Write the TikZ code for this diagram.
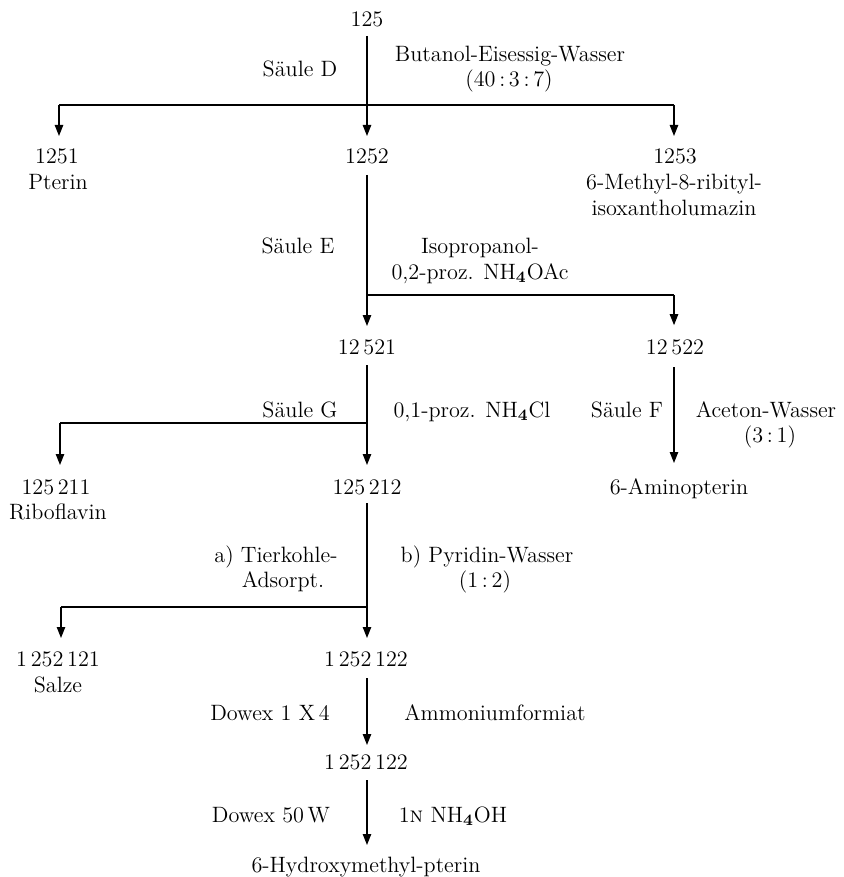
\documentclass[tikz,border=0pt]{standalone}
\usetikzlibrary{arrows.meta}
\begin{document}
\begin{tikzpicture}[x=0.5pt,y=-0.5pt,
  every node/.style={anchor=base,inner sep=0pt,outer sep=0pt,text height=7.1pt,text depth=0pt,
    font=\fontsize{11.1}{13}\selectfont},
  ln/.style={line width=0.65pt},
  arr/.style={ln,-{Triangle[length=5.5pt,width=4.2pt]}}]
\useasboundingbox (0,0) rectangle (844,877);
% ---- compounds
\node (n125) at (367,27) {125};
\node (n1251) at (57,164) {1251};
\node (pterin) at (58,190) {Pterin};
\node (n1252) at (367,164) {1252};
\node (n1253) at (675,164) {1253};
\node (methyl) at (674,190) {6-Methyl-8-ribityl-};
\node (isox) at (674,215) {isoxantholumazin};
\node (n12521) at (367,354) {12\,521};
\node (n12522) at (675,354) {12\,522};
\node (n125211) at (56,494) {125\,211};
\node (ribo) at (58,519) {Riboflavin};
\node (n125212) at (367,494) {125\,212};
\node (amino) at (679,494) {6-Aminopterin};
\node (n1252121) at (58,666) {1\,252\,121};
\node (salze) at (58,692) {Salze};
\node (n1252122) at (366,666) {1\,252\,122};
\node (n1252122b) at (366,769) {1\,252\,122};
\node (hydroxy) at (366,872) {6-Hydroxymethyl-pterin};
% ---- conditions
\node (sD) at (300,77) {Säule D};
\node (butanol) at (510,62) {Butanol-Eisessig-Wasser};
\node (ratioD) at (509,87) {(40\,:\,3\,:\,7)};
\node (sE) at (298,254) {Säule E};
\node (iso) at (480,254) {Isopropanol-};
\node (acE) at (480,279) {0,2-proz. NH$_{\mathbf{4}}$OAc};
\node (sG) at (300,417) {Säule G};
\node (clG) at (472,417) {0,1-proz. NH$_{\mathbf{4}}$Cl};
\node (sF) at (627,417) {Säule F};
\node (aceton) at (766,417) {Aceton-Wasser};
\node (ratioF) at (770,442) {(3\,:\,1)};
\node (tier) at (276,562) {a) Tierkohle-};
\node (ads) at (283,587) {Adsorpt.};
\node (pyr) at (487,562) {b) Pyridin-Wasser};
\node (ratioP) at (485,587) {(1\,:\,2)};
\node (dow1) at (270,720) {Dowex 1 X\,4};
\node (amf) at (495,720) {Ammoniumformiat};
\node (dow50) at (271,822) {Dowex 50\,W};
\node (nh4oh) at (453,822) {1\textsc{n} NH$_{\mathbf{4}}$OH};
% ---- junctions
\coordinate (jD) at (367,105);
\coordinate (jDl) at (59,105);
\coordinate (jDr) at (674,105);
\coordinate (jE) at (367,295);
\coordinate (jEr) at (674,295);
\coordinate (jG) at (367,423);
\coordinate (jGl) at (60,423);
\coordinate (jT) at (367,607);
\coordinate (jTl) at (61,607);
% ---- step D
\draw[ln] (jDl) -- (jDr);
\draw[ln,shorten <=4.5pt] (n125) -- (jD);
\draw[arr,shorten >=6.9pt] (jD) -- (n1252);
\draw[arr,shorten >=6.9pt] (jDl) -- (jDl |- n1251.north);
\draw[arr,shorten >=6.9pt] (jDr) -- (jDr |- n1253.north);
% ---- step E
\draw[ln] (jE) -- (jEr);
\draw[ln,shorten <=5.5pt] (n1252) -- (jE);
\draw[arr,shorten >=6.9pt] (jE) -- (n12521);
\draw[arr,shorten >=7.3pt] (jEr) -- (jEr |- n12522.north);
% ---- step G
\draw[ln] (jGl) -- (jG);
\draw[ln,shorten <=5.5pt] (n12521) -- (jG);
\draw[arr,shorten >=7.4pt] (jG) -- (n125212);
\draw[arr,shorten >=7.4pt] (jGl) -- (jGl |- n125211.north);
% ---- step F
\draw[arr,shorten <=6.5pt,shorten >=8.4pt] (n12522.south -| jEr) -- (jEr |- amino.north);
% ---- step Tierkohle
\draw[ln] (jTl) -- (jT);
\draw[ln,shorten <=4.5pt] (n125212) -- (jT);
\draw[arr,shorten >=6.9pt] (jT) -- (jT |- n1252122.north);
\draw[arr,shorten >=6.9pt] (jTl) -- (jTl |- n1252121.north);
% ---- Dowex steps
\draw[arr,shorten <=6pt,shorten >=4.9pt] (jT |- n1252122.south) -- (jT |- n1252122b.north);
\draw[arr,shorten <=5.5pt,shorten >=6.4pt] (jT |- n1252122b.south) -- (jT |- hydroxy.north);
\end{tikzpicture}
\end{document}
